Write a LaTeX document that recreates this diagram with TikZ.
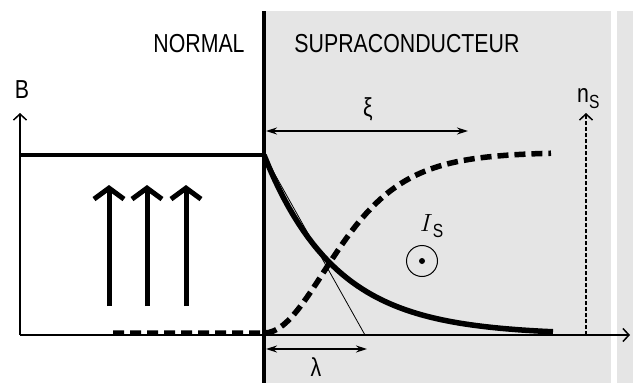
\documentclass[tikz,border=0pt]{standalone}
\usepackage{fontspec}
\setmainfont{Liberation Sans}
\usetikzlibrary{arrows.meta,positioning}
\newcommand{\narrowtxt}[2][26]{\scalebox{0.82}[1]{\fontsize{#1}{#1}\selectfont #2}}

\begin{document}
\begin{tikzpicture}[
    x=1pt, y=-1pt,
    lbl/.style={inner sep=0pt},
    axis/.style={line width=1.5pt, -{Straight Barb[length=6pt, width=13pt, line width=1.5pt]}},
    field/.style={line width=5pt, -{Straight Barb[length=11pt, width=30pt, line width=5pt]}},
    span/.style={line width=1.5pt, {Stealth[length=11pt, width=7pt]}-{Stealth[length=11pt, width=7pt]}},
    thick curve/.style={line width=5.5pt},
    dashed curve/.style={line width=5.5pt, dash pattern=on 11pt off 6pt}
]
\useasboundingbox (0,0) rectangle (633,383);
% superconducting region
\fill[black!10] (264,11) rectangle (611,383);
\fill[black!10] (617,11) rectangle (633,383);
\draw[line width=4pt] (264,11) -- (264,383);

% axes
\coordinate (O) at (20,335);
\coordinate (Bend) at (20,113);
\coordinate (xend) at (630,335);
\coordinate (nbase) at (586,335);
\coordinate (nend) at (586,113);
\draw[axis] (O) -- (xend);
\draw[axis] (O) -- (Bend);
\draw[line width=2pt, dash pattern=on 4pt off 2pt, -{Straight Barb[length=6pt, width=13pt, line width=1.5pt]}] (nbase) -- (nend);
\node[lbl] (B) at (22,90) {\narrowtxt{B}};
\node[lbl, anchor=base west] (ns) at (577,102) {\narrowtxt{n}\raisebox{-6pt}{\narrowtxt[19]{S}}};

% field B
\coordinate (Bl) at (20,155);
\coordinate (Bi) at (264,155);
\draw[line width=4.5pt] (Bl) -- (Bi);
\draw[thick curve] (Bi) -- plot[domain=264:553, samples=60] (\x, {335-180*exp(-(\x-264)/72)});
\draw[line width=0.8pt] (Bi) -- (365,335);

% density n_s
\draw[dashed curve] (113,333) -- (264,333)
    -- plot[domain=264:551, samples=60] (\x, {333-181*tanh((\x-264)/90)^2});

% applied field arrows
\foreach \xa in {109,147,186}
    \draw[field] (\xa,306) -- (\xa,185);

% lengths
\coordinate (xi0) at (266,131);
\coordinate (xi1) at (468,131);
\draw[span] (xi0) -- (xi1);
\node[lbl] (xi) at (368,109) {\narrowtxt{ξ}};
\coordinate (la0) at (266,349);
\coordinate (la1) at (367,349);
\draw[span] (la0) -- (la1);
\node[lbl] (lambda) at (316,367) {\narrowtxt{λ}};

% current
\node[draw, circle, line width=1pt, minimum size=31pt, inner sep=0pt] (Is) at (422,261) {};
\fill (Is.center) circle (3pt);
\node[inner sep=0pt, anchor=base west] (Islbl) at (420,231) {\fontsize{30}{30}\selectfont$I$\raisebox{-6pt}{\narrowtxt[19]{S}}};

% region labels
\node[lbl] (normal) at (199,44) {\narrowtxt{NORMAL}};
\node[lbl] (supra) at (407,44) {\narrowtxt{SUPRACONDUCTEUR}};
\end{tikzpicture}
\end{document}
